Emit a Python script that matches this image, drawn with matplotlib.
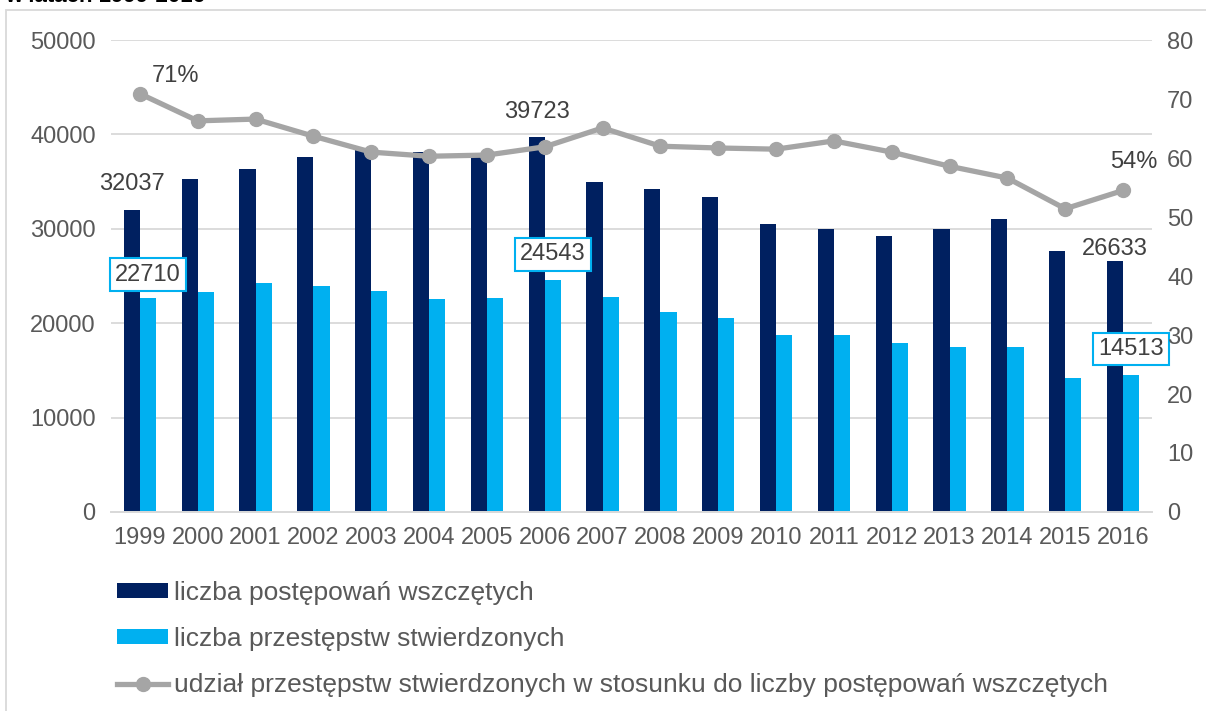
import matplotlib.pyplot as plt
import numpy as np
from matplotlib.patches import Rectangle

plt.rcParams['font.family'] = ['Liberation Sans', 'DejaVu Sans']

# dane
lata = ['1999', '2000', '2001', '2002', '2003', '2004', '2005', '2006', '2007',
        '2008', '2009', '2010', '2011', '2012', '2013', '2014', '2015', '2016']
wszczete = [32037, 35280, 36330, 37600, 38350, 38100, 38000, 39723, 34960,
            34220, 33370, 30500, 29980, 29240, 29980, 31040, 27650, 26633]
stwierdzone = [22710, 23300, 24260, 23940, 23400, 22600, 22670, 24543, 22780,
               21190, 20550, 18750, 18800, 17900, 17480, 17480, 14200, 14513]
udzial = [70.9, 66.3, 66.6, 63.7, 61.0, 60.3, 60.5, 61.9, 65.1,
          62.0, 61.7, 61.5, 62.9, 61.0, 58.6, 56.6, 51.4, 54.5]

granat = '#002060'
niebieski = '#00B0F0'
szary = '#A5A5A5'
tekst = '#595959'
etykieta = '#404040'
fs = 17

fig = plt.figure(figsize=(12.06, 7.11), dpi=100)
ax = fig.add_axes([0.092, 0.2799, 0.8632, 0.6638])
ax2 = ax.twinx()

x = np.arange(len(lata))
w = 0.28
ax.bar(x - w / 2, wszczete, w, color=granat, label='liczba postępowań wszczętych', zorder=2)
ax.bar(x + w / 2, stwierdzone, w, color=niebieski, label='liczba przestępstw stwierdzonych', zorder=2)
ln, = ax2.plot(x, udzial, color=szary, lw=3.8, marker='o', ms=10,
               label='udział przestępstw stwierdzonych w stosunku do liczby postępowań wszczętych')

ax.set_xlim(-0.5, len(lata) - 0.5)
ax.set_ylim(0, 50000)
ax2.set_ylim(0, 80)
ax.set_yticks(np.arange(0, 50001, 10000))
ax2.set_yticks(np.arange(0, 81, 10))
ax.set_xticks(x)
ax.set_xticklabels(lata)

ax.grid(axis='y', color='#D9D9D9', lw=1.3, zorder=0)
ax.set_axisbelow(True)
for a in (ax, ax2):
    for s in ['top', 'left', 'right']:
        a.spines[s].set_visible(False)
    a.spines['bottom'].set_color('#D9D9D9')
    a.spines['bottom'].set_linewidth(1.3)
ax.tick_params(axis='both', length=0, labelsize=fs, labelcolor=tekst)
ax.tick_params(axis='y', pad=11)
ax.tick_params(axis='x', pad=11)
ax2.tick_params(axis='y', length=0, labelsize=fs, labelcolor=tekst, pad=11)

# etykiety wartości
pt = 72 / 100
for i, dy in [(0, 26), (7, 25), (17, 12)]:
    ax.annotate(str(wszczete[i]), (x[i] - w / 2, wszczete[i]), xytext=(0, dy * pt),
                textcoords='offset points', ha='center', va='center',
                fontsize=fs, color=etykieta)
for i, dy in [(0, 23), (7, 26), (17, 26)]:
    ax.annotate(str(stwierdzone[i]), (x[i] + w / 2, stwierdzone[i]), xytext=(0, dy * pt),
                textcoords='offset points', ha='center', va='center',
                fontsize=fs, color=etykieta, zorder=5,
                bbox=dict(boxstyle='square,pad=0.22', fc='white', ec=niebieski, lw=1.5))
for i, dx, dy in [(0, 36, 18), (17, 11, 28)]:
    ax2.annotate(f'{round(udzial[i])}%', (x[i], udzial[i]), xytext=(dx * pt, dy * pt),
                 textcoords='offset points', ha='center', va='center',
                 fontsize=fs, color=etykieta)

h1, l1 = ax.get_legend_handles_labels()
fig.legend(h1 + [ln], l1 + [ln.get_label()], loc='upper left',
           bbox_to_anchor=(117 / 1206, 1 - 581 / 711), frameon=False, fontsize=19,
           labelcolor=tekst, handlelength=1.95, handleheight=0.5,
           handletextpad=0.2, labelspacing=0.84, borderaxespad=0, borderpad=0)

# ramka wykresu i ucięty tytuł
fig.patches.append(Rectangle((6 / 1206, -0.1), 1.2, 1 - 10 / 711 + 0.1,
                             transform=fig.transFigure, fill=False,
                             ec='#D9D9D9', lw=1.3))
fig.text(0.004, 1 - 2 / 711, 'w latach 1999-2016', fontsize=16, fontweight='bold',
         va='baseline', ha='left', color='black')

fig.savefig('out.png', dpi=100)
